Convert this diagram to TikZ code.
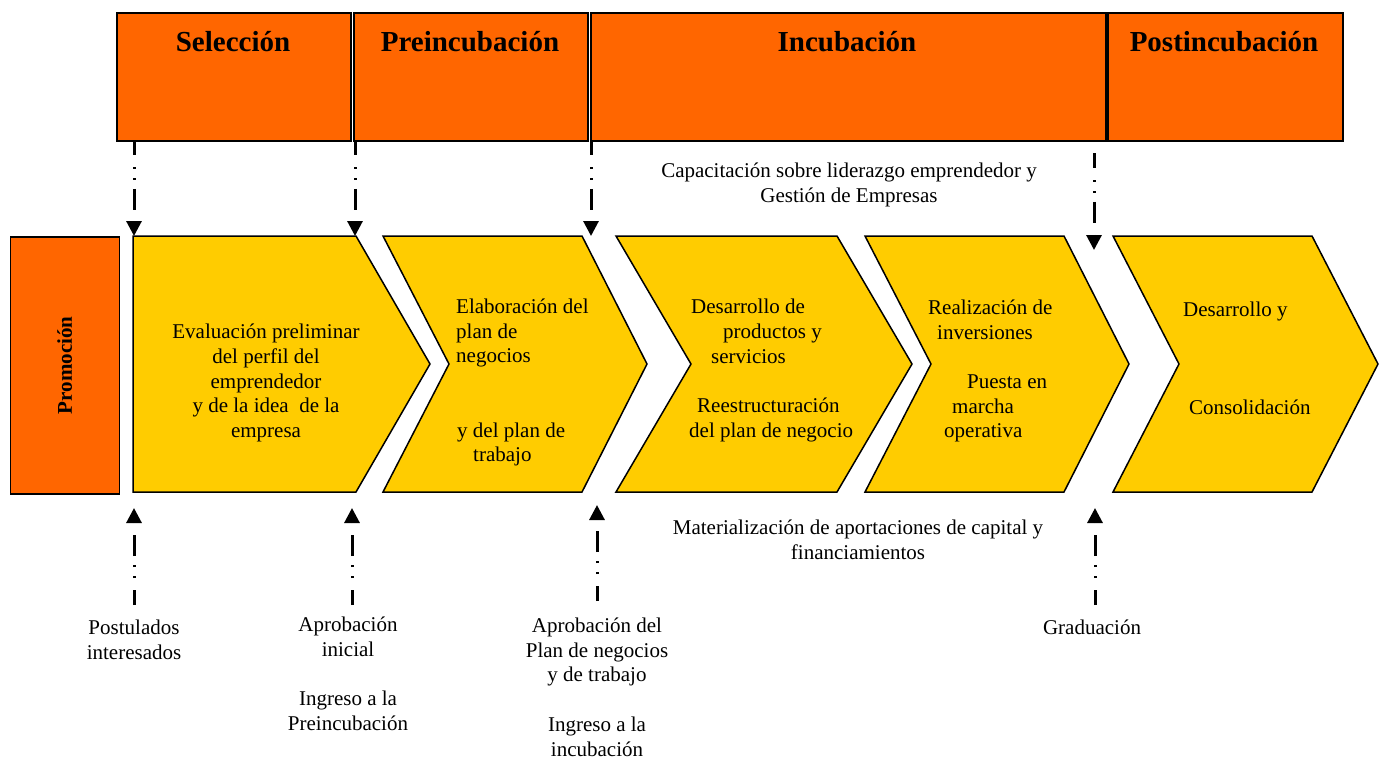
\documentclass[tikz,border=0pt]{standalone}
\usepackage{fontspec}
\setmainfont{Liberation Serif}
\usetikzlibrary{arrows.meta}
\definecolor{hdrorange}{HTML}{FF6600}
\definecolor{chevyellow}{HTML}{FFCC00}
\begin{document}
\begin{tikzpicture}[x=1pt,y=-1pt,
  every node/.style={inner sep=0pt, font=\fontsize{21}{24.7}\selectfont},
  hdrbox/.style={draw=black, line width=1.8pt, fill=hdrorange, rectangle, anchor=north west, minimum height=128pt},
  hdrtext/.style={font=\fontsize{29}{34}\selectfont\bfseries},
  chev/.style={draw=black, line width=1.5pt, fill=chevyellow, line join=miter},
  flow/.style={line width=3pt, dash pattern=on 21pt off 12pt on 1.8pt off 9.2pt on 1.8pt off 9pt, dash phase=6pt, -{Triangle[width=15pt,length=15pt]}},
  lbl/.style={align=center},
  lft/.style={align=left, anchor=west}]
\useasboundingbox (0,0) rectangle (1381,758);

% header boxes
\node[hdrbox, minimum width=234pt] (sel) at (116,12) {};
\node[hdrbox, minimum width=234pt] (pre) at (353,12) {};
\node[hdrbox, minimum width=515pt] (inc) at (590,12) {};
\node[hdrbox, minimum width=235pt] (post) at (1107,12) {};
\node[hdrtext] (selt) at (233,42) {Selección};
\node[hdrtext] (pret) at (470,42) {Preincubación};
\node[hdrtext] (inct) at (847,42) {Incubación};
\node[hdrtext] (postt) at (1224,42) {Postincubación};

% promocion
\node[draw=black, line width=1.5pt, fill=hdrorange, anchor=north west, minimum width=109pt, minimum height=257pt] (prom) at (9.5,236) {};
\node[rotate=90, font=\fontsize{21}{24.7}\selectfont\bfseries] (promt) at (prom.center) {Promoción};

% chevrons
\draw[chev] (133,236) -- (356,236) -- (430,364) -- (356,492) -- (133,492) -- cycle;
\draw[chev] (383,236) -- (582,236) -- (647,364) -- (582,492) -- (383,492) -- (449,364) -- cycle;
\draw[chev] (616,236) -- (837,236) -- (912,364) -- (837,492) -- (616,492) -- (691,364) -- cycle;
\draw[chev] (865,236) -- (1064,236) -- (1129,364) -- (1064,492) -- (865,492) -- (931,364) -- cycle;
\draw[chev] (1113,236) -- (1312,236) -- (1378,364) -- (1312,492) -- (1113,492) -- (1179,364) -- cycle;

% chevron texts
\node[lbl] (c1) at (266,383) {Evaluación preliminar\\del perfil del\\emprendedor\\y de la idea\ \ de la\\empresa};
\node[lft] (c2a) at (456,333) {Elaboración del\\plan de\\negocios};
\node[lft] (c2b) at (457,444.5) {y del plan de\\\hspace*{16pt}trabajo};
\node[lft] (c3) at (689,370.5) {\hspace*{2pt}Desarrollo de\\\hspace*{34pt}productos y\\\hspace*{22pt}servicios\\[24.7pt]\hspace*{8pt}Reestructuración\\del plan de negocio};
\node[lft] (c4) at (928,371) {Realización de\\\hspace*{9pt}inversiones\\[24.7pt]\hspace*{39pt}Puesta en\\\hspace*{24pt}marcha\\\hspace*{16pt}operativa};
\node[lft] (c5a) at (1183,311) {Desarrollo y};
\node[lft] (c5b) at (1189,407) {Consolidación};

% side texts
\node[lbl] (cap) at (849,185) {Capacitación sobre liderazgo emprendedor y\\Gestión de Empresas};
\node[lbl] (mat) at (858,540) {Materialización de aportaciones de capital y\\financiamientos};

% bottom labels
\node[lbl] (b1) at (134,639.5) {Postulados\\interesados};
\node[lbl] (b2a) at (348,636.5) {Aprobación\\inicial};
\node[lbl] (b2b) at (348,711) {Ingreso a la\\Preincubación};
\node[lbl] (b3a) at (597,652) {Aprobación del\\Plan de negocios\\y de trabajo};
\node[lbl] (b3b) at (597,736.5) {Ingreso a la\\incubación};
\node[lbl] (b4) at (1092,627) {Graduación};

% arrow end points
\coordinate (t1s) at (134,140); \coordinate (t1e) at (134,236);
\coordinate (t2s) at (355,140); \coordinate (t2e) at (355,236);
\coordinate (t3s) at (591,140); \coordinate (t3e) at (591,236);
\coordinate (t4s) at (1094,153); \coordinate (t4e) at (1094,250);
\coordinate (u1s) at (134,605); \coordinate (u1e) at (134,508);
\coordinate (u2s) at (352,605); \coordinate (u2e) at (352,508);
\coordinate (u3s) at (597,601); \coordinate (u3e) at (597,505);
\coordinate (u4s) at (1095,605); \coordinate (u4e) at (1095,508);

\draw[flow] (t1s) -- (t1e);
\draw[flow] (t2s) -- (t2e);
\draw[flow] (t3s) -- (t3e);
\draw[flow] (t4s) -- (t4e);
\draw[flow] (u1s) -- (u1e);
\draw[flow] (u2s) -- (u2e);
\draw[flow] (u3s) -- (u3e);
\draw[flow] (u4s) -- (u4e);
\end{tikzpicture}
\end{document}
